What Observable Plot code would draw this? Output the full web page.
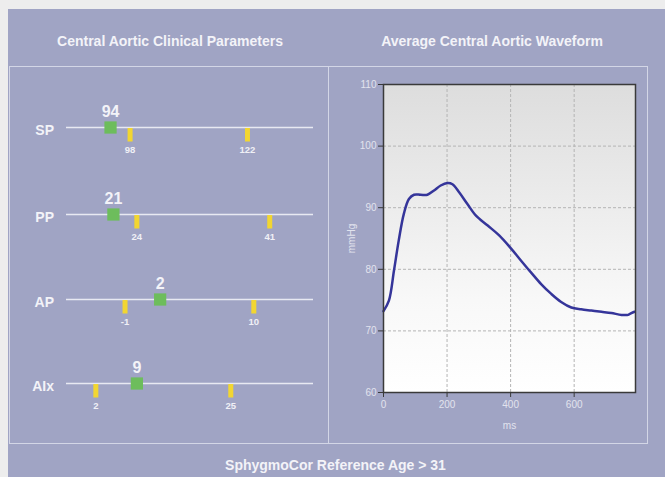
<!DOCTYPE html>
<html>
<head>
<meta charset="utf-8">
<script src="https://cdn.jsdelivr.net/npm/d3@7"></script>
<script src="https://cdn.jsdelivr.net/npm/@observablehq/plot@0.6"></script>
<style>
  body { margin: 0; background: #ededed; font-family: "Liberation Sans", Arial, sans-serif; }
  #page { position: relative; width: 665px; height: 477px; overflow: hidden; }
  #panel { position: absolute; left: 8px; top: 9px; width: 657px; height: 468px; background: #a0a4c4; }
  .title { position: absolute; color: #f3f3f8; font-weight: bold; font-size: 14px; text-align: center; line-height: 16px; white-space: nowrap; }
  #box { position: absolute; left: 9px; top: 66px; width: 639px; height: 378px; border: 1px solid #d3d6e6; box-sizing: border-box; }
  #divider { position: absolute; left: 328px; top: 66px; width: 1px; height: 378px; background: #d3d6e6; }
  .abs { position: absolute; }
  svg { overflow: visible; }
</style>
</head>
<body>
<div id="page">
  <div id="panel"></div>
  <div id="box"></div>
  <div id="divider"></div>
  <div class="title" style="left:11px;top:33px;width:318px;">Central Aortic Clinical Parameters</div>
  <div class="title" style="left:333px;top:33px;width:318px;">Average Central Aortic Waveform</div>
  <div class="title" style="left:0px;top:457px;width:671px;">SphygmoCor Reference Age &gt; 31</div>
  <div id="rows"></div>
  <div id="wave" class="abs" style="left:329px;top:66px;"></div>
</div>
<script>
// ---- Clinical parameters ----
const params   = ["SP", "PP", "AP", "AIx"];
const measured = [94, 21, 2, 9];
const refLow   = [98, 24, -1, 2];
const refHigh  = [122, 41, 10, 25];
const rowDomains = [[85, 135.5], [15, 46.6], [-6, 15.1], [-3, 39.1]];
const rowTops = [85, 172, 257, 341];

// ---- Waveform ----
const waveMs   = [0, 17, 33, 48, 64, 80, 96, 117, 138, 159, 180, 201, 217, 238, 264, 291, 328, 364, 401, 433, 464, 496, 528, 559, 591, 622, 654, 686, 717, 749, 770, 780, 790];
const waveMmHg = [73.2, 74.9, 79.8, 84.7, 89.0, 91.4, 92.1, 92.1, 92.1, 92.8, 93.6, 94.0, 93.8, 92.5, 90.6, 88.7, 87.1, 85.5, 83.4, 81.4, 79.5, 77.6, 76.0, 74.7, 73.8, 73.5, 73.3, 73.1, 72.9, 72.6, 72.6, 72.9, 73.1];
const yTicks = [60, 70, 80, 90, 100, 110];
const xTicks = [0, 200, 400, 600];

const textColor = "#f3f3f8";
const font = "Liberation Sans, Arial, sans-serif";

const rowsDiv = document.getElementById("rows");
params.forEach((p, i) => {
  const refs = [refLow[i], refHigh[i]];
  const chart = Plot.plot({
    width: 318, height: 84,
    marginLeft: 56, marginRight: 15, marginTop: 0, marginBottom: 0,
    style: { background: "transparent", fontFamily: font, overflow: "visible" },
    x: { domain: rowDomains[i], axis: null },
    y: { domain: [-1, 1], axis: null },
    marks: [
      Plot.ruleY([0], { stroke: "#e8e9f2", strokeWidth: 1.4 }),
      Plot.tickX(refs, { x: d => d, stroke: "#f2d631", strokeWidth: 5, insetTop: 43, insetBottom: 27.5 }),
      Plot.text(refs, { x: d => d, y: 0, dy: 22.3, text: d => String(d), fill: "#f0f0f6", fontSize: 9.5, fontWeight: "bold" }),
      Plot.dot([measured[i]], { x: d => d, y: 0, symbol: "square", r: 6.9, fill: "#6dbd5c", stroke: "none" }),
      Plot.text([measured[i]], { x: d => d, y: 0, dy: -15.5, text: d => String(d), fill: textColor, fontSize: 16, fontWeight: "bold" }),
      Plot.text([p], { frameAnchor: "left", y: 0, dx: -12.5, dy: 3, textAnchor: "end", text: d => d, fill: textColor, fontSize: 14, fontWeight: "bold" })
    ]
  });
  chart.style.position = "absolute";
  chart.style.left = "10px";
  chart.style.top = rowTops[i] + "px";
  rowsDiv.appendChild(chart);
});

function gradientDefs() {
  const ns = "http://www.w3.org/2000/svg";
  const defs = document.createElementNS(ns, "defs");
  const g = document.createElementNS(ns, "linearGradient");
  g.setAttribute("id", "bgGrad");
  g.setAttribute("x1", "0"); g.setAttribute("y1", "0");
  g.setAttribute("x2", "0"); g.setAttribute("y2", "1");
  [["0", "#dddddd"], ["0.7", "#f8f8f8"], ["1", "#ffffff"]].forEach(([o, c]) => {
    const s = document.createElementNS(ns, "stop");
    s.setAttribute("offset", o); s.setAttribute("stop-color", c);
    g.appendChild(s);
  });
  defs.appendChild(g);
  return defs;
}

const wave = waveMs.map((t, i) => ({ t, v: waveMmHg[i] }));
const waveChart = Plot.plot({
  width: 318, height: 377,
  marginLeft: 54, marginRight: 12, marginTop: 18, marginBottom: 51,
  style: { background: "transparent", fontFamily: font, fontSize: "10px", overflow: "visible" },
  x: { domain: [0, 793] },
  y: { domain: [60, 110] },
  marks: [
    gradientDefs,
    Plot.frame({ fill: "url(#bgGrad)", stroke: "none" }),
    Plot.gridX(xTicks.slice(1), { stroke: "#b4b4b4", strokeOpacity: 1, strokeDasharray: "3,2" }),
    Plot.gridY(yTicks.slice(1, -1), { stroke: "#b4b4b4", strokeOpacity: 1, strokeDasharray: "3,2" }),
    Plot.line(wave, { x: "t", y: "v", curve: "catmull-rom", stroke: "#35359a", strokeWidth: 2.5 }),
    Plot.frame({ stroke: "#3a3a3a", strokeWidth: 1.5 }),
    Plot.axisY(yTicks, { tickSize: 5, tickPadding: 2, stroke: "#3a3a3a", fill: "#e2e3ee", label: "mmHg", labelAnchor: "center", labelArrow: "none", labelOffset: 36 }),
    Plot.axisX(xTicks, { tickSize: 5, tickPadding: 3, stroke: "#3a3a3a", fill: "#e2e3ee", label: "ms", labelAnchor: "center", labelArrow: "none", labelOffset: 36 })
  ]
});
document.getElementById("wave").appendChild(waveChart);
</script>
</body>
</html>
